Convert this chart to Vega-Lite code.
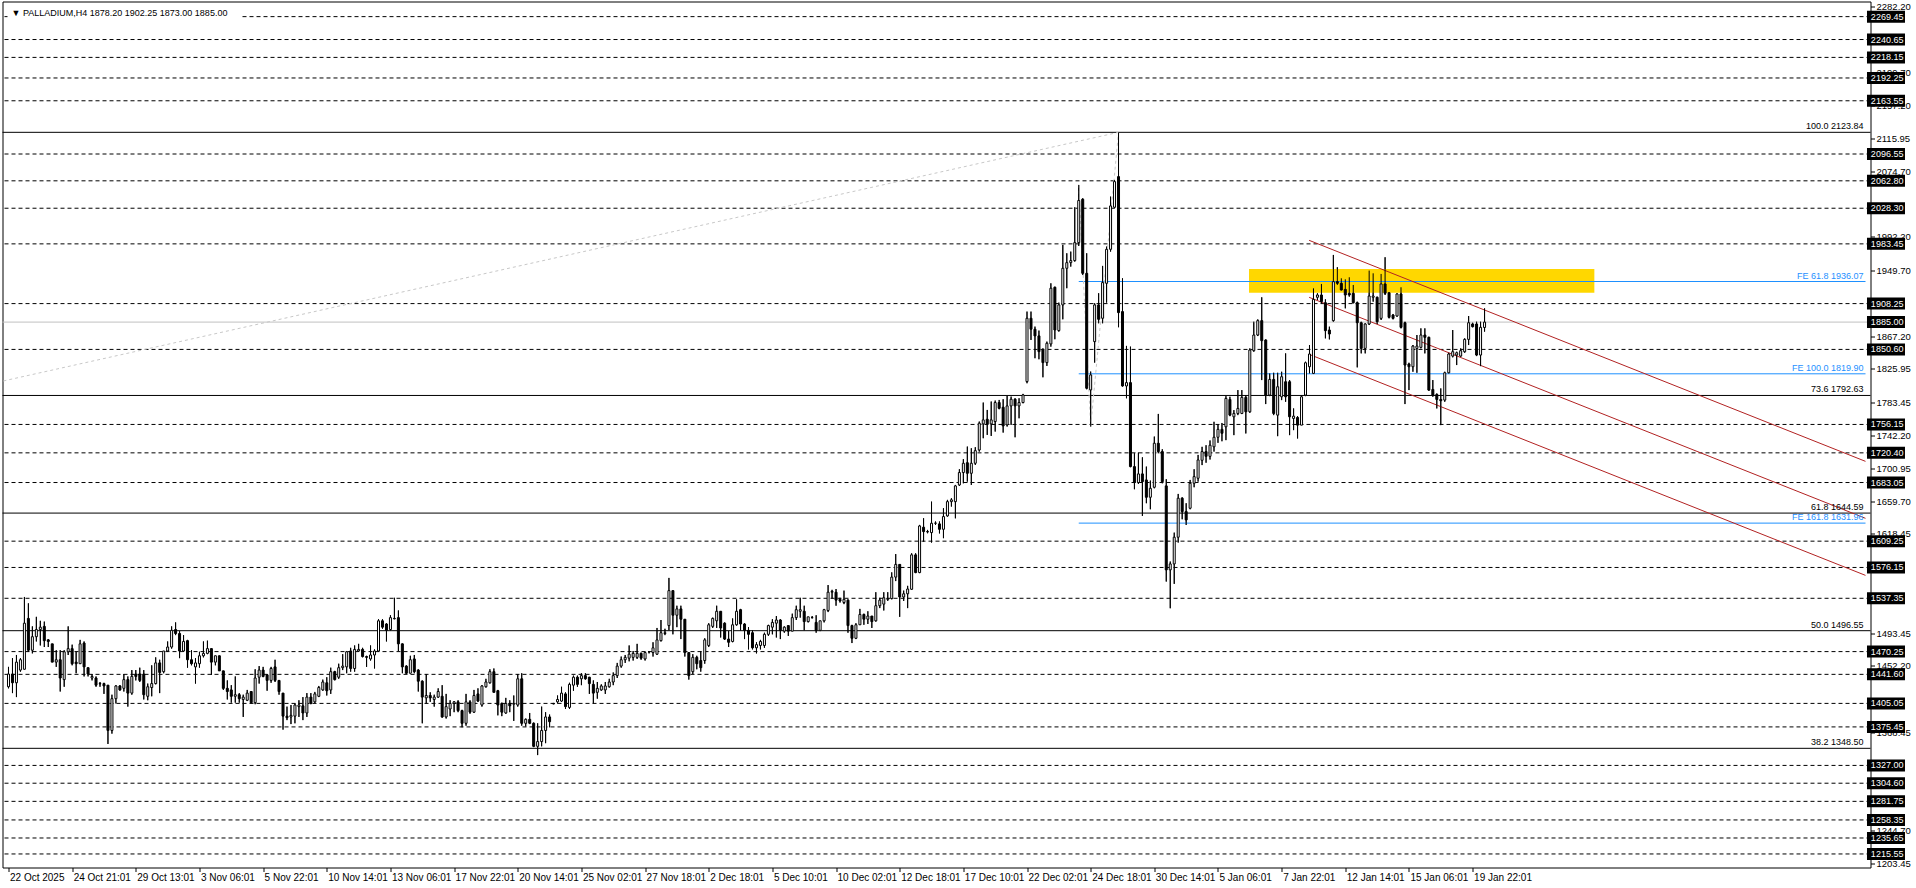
{
"$schema": "https://vega.github.io/schema/vega-lite/v6.json",
"width": 1868, "height": 866,
"autosize": {"type": "none"},
"padding": {"left": 2.5, "top": 1.5, "right": 45.5, "bottom": 20.5},
"background": "white",
"config": {
  "font": "Liberation Sans",
  "view": {"stroke": "black", "strokeWidth": 1},
  "axis": {"labelFont": "Liberation Sans", "labelFontSize": 9.5, "labelColor": "black", "tickColor": "black", "tickWidth": 1, "domain": false, "grid": false, "zindex": 0}
},
"datasets": {
"candles": [
{"i":0,"o":1426,"h":1451,"l":1424,"c":1442},{"i":1,"o":1442,"h":1462,"l":1418,"c":1431},{"i":2,"o":1431,"h":1466,"l":1413,"c":1457},{"i":3,"o":1447,"h":1462,"l":1445,"c":1460},{"i":4,"o":1448,"h":1539,"l":1448,"c":1506},{"i":5,"o":1512,"h":1531,"l":1470,"c":1472},{"i":6,"o":1472,"h":1502,"l":1468,"c":1489},{"i":7,"o":1489,"h":1514,"l":1483,"c":1498},{"i":8,"o":1498,"h":1509,"l":1478,"c":1501},{"i":9,"o":1502,"h":1508,"l":1476,"c":1484},
{"i":10,"o":1485,"h":1486,"l":1476,"c":1483},{"i":11,"o":1480,"h":1480,"l":1457,"c":1457},{"i":12,"o":1457,"h":1472,"l":1451,"c":1460},{"i":13,"o":1460,"h":1472,"l":1420,"c":1437},{"i":14,"o":1435,"h":1472,"l":1426,"c":1470},{"i":15,"o":1470,"h":1502,"l":1466,"c":1474},{"i":16,"o":1474,"h":1479,"l":1453,"c":1455},{"i":17,"o":1457,"h":1470,"l":1443,"c":1455},{"i":18,"o":1455,"h":1485,"l":1455,"c":1480},{"i":19,"o":1481,"h":1483,"l":1439,"c":1451},
{"i":20,"o":1450,"h":1450,"l":1439,"c":1442},{"i":21,"o":1437,"h":1442,"l":1434,"c":1439},{"i":22,"o":1437,"h":1439,"l":1426,"c":1428},{"i":23,"o":1430,"h":1432,"l":1426,"c":1429.6},{"i":24,"o":1430,"h":1431,"l":1417,"c":1427},{"i":25,"o":1428,"h":1428,"l":1354,"c":1371},{"i":26,"o":1371,"h":1416,"l":1367,"c":1411},{"i":27,"o":1411,"h":1428,"l":1405,"c":1427},{"i":28,"o":1427,"h":1428,"l":1421,"c":1422},{"i":29,"o":1424,"h":1442,"l":1420,"c":1435},
{"i":30,"o":1435,"h":1439,"l":1401,"c":1418},{"i":31,"o":1418,"h":1447,"l":1416,"c":1439},{"i":32,"o":1442,"h":1447,"l":1434,"c":1439},{"i":33,"o":1442,"h":1450,"l":1432,"c":1434},{"i":34,"o":1442,"h":1447,"l":1410,"c":1416},{"i":35,"o":1414,"h":1430,"l":1409,"c":1426},{"i":36,"o":1425,"h":1453,"l":1414,"c":1430},{"i":37,"o":1430,"h":1463,"l":1429,"c":1456},{"i":38,"o":1456,"h":1460,"l":1418,"c":1444},{"i":39,"o":1445,"h":1471,"l":1443,"c":1471},
{"i":40,"o":1471,"h":1483,"l":1470,"c":1476},{"i":41,"o":1476,"h":1502,"l":1474,"c":1497},{"i":42,"o":1498,"h":1507,"l":1491,"c":1493},{"i":43,"o":1493,"h":1496,"l":1462,"c":1471},{"i":44,"o":1471,"h":1491,"l":1470,"c":1483},{"i":45,"o":1484,"h":1485,"l":1450,"c":1460},{"i":46,"o":1460,"h":1472,"l":1453,"c":1455},{"i":47,"o":1451,"h":1462,"l":1430,"c":1456},{"i":48,"o":1455,"h":1470,"l":1450,"c":1465},{"i":49,"o":1465,"h":1483,"l":1463,"c":1468},
{"i":50,"o":1468,"h":1484,"l":1467,"c":1474},{"i":51,"o":1474,"h":1474,"l":1441,"c":1457},{"i":52,"o":1457,"h":1465,"l":1453,"c":1465},{"i":53,"o":1465,"h":1465,"l":1446,"c":1446},{"i":54,"o":1446,"h":1446,"l":1422,"c":1424},{"i":55,"o":1424,"h":1434,"l":1410,"c":1420},{"i":56,"o":1422,"h":1428,"l":1406,"c":1414},{"i":57,"o":1414,"h":1439,"l":1406,"c":1416},{"i":58,"o":1416,"h":1418,"l":1406,"c":1411},{"i":59,"o":1410,"h":1416,"l":1388,"c":1413},
{"i":60,"o":1409,"h":1422,"l":1408,"c":1418},{"i":61,"o":1420,"h":1420,"l":1405,"c":1406},{"i":62,"o":1406,"h":1448,"l":1404,"c":1437},{"i":63,"o":1438,"h":1452,"l":1430,"c":1447},{"i":64,"o":1447,"h":1451,"l":1438,"c":1439},{"i":65,"o":1441,"h":1442,"l":1421,"c":1434},{"i":66,"o":1434,"h":1451,"l":1431,"c":1449},{"i":67,"o":1451,"h":1460,"l":1432,"c":1434},{"i":68,"o":1434,"h":1434,"l":1416,"c":1420},{"i":69,"o":1418,"h":1418,"l":1372,"c":1389},
{"i":70,"o":1389,"h":1401,"l":1384,"c":1387},{"i":71,"o":1388,"h":1403,"l":1379,"c":1390},{"i":72,"o":1389,"h":1405,"l":1380,"c":1403},{"i":73,"o":1401,"h":1409,"l":1388,"c":1403},{"i":74,"o":1402,"h":1413,"l":1384,"c":1393},{"i":75,"o":1393,"h":1418,"l":1388,"c":1413},{"i":76,"o":1413,"h":1418,"l":1404,"c":1405},{"i":77,"o":1407,"h":1419.5,"l":1405.6,"c":1417},{"i":78,"o":1414,"h":1427,"l":1413,"c":1425},{"i":79,"o":1422,"h":1435,"l":1421,"c":1432},
{"i":80,"o":1431,"h":1438,"l":1415,"c":1421},{"i":81,"o":1422,"h":1450,"l":1417,"c":1445},{"i":82,"o":1445,"h":1446,"l":1434,"c":1435},{"i":83,"o":1438,"h":1455,"l":1436,"c":1450},{"i":84,"o":1450,"h":1467,"l":1447,"c":1452},{"i":85,"o":1451,"h":1471,"l":1443,"c":1470},{"i":86,"o":1471,"h":1475,"l":1445,"c":1449},{"i":87,"o":1449,"h":1478,"l":1445,"c":1473},{"i":88,"o":1471,"h":1480,"l":1470,"c":1473},{"i":89,"o":1473,"h":1475,"l":1463,"c":1464},
{"i":90,"o":1464,"h":1465,"l":1451,"c":1463},{"i":91,"o":1461,"h":1478,"l":1459,"c":1466},{"i":92,"o":1466,"h":1473,"l":1449,"c":1471},{"i":93,"o":1471,"h":1511,"l":1470,"c":1509},{"i":94,"o":1509,"h":1511,"l":1499,"c":1501},{"i":95,"o":1505,"h":1506,"l":1483,"c":1497},{"i":96,"o":1498,"h":1516,"l":1497,"c":1513},{"i":97,"o":1512,"h":1538,"l":1511,"c":1511.5},{"i":98,"o":1513,"h":1522,"l":1471,"c":1480},{"i":99,"o":1480,"h":1480.4,"l":1443,"c":1451},
{"i":100,"o":1452,"h":1453,"l":1442,"c":1443},{"i":101,"o":1443,"h":1465,"l":1443,"c":1460},{"i":102,"o":1461,"h":1466,"l":1443,"c":1445},{"i":103,"o":1447,"h":1448,"l":1420,"c":1433},{"i":104,"o":1433,"h":1434,"l":1380,"c":1413},{"i":105,"o":1412,"h":1442,"l":1405,"c":1415},{"i":106,"o":1415,"h":1419,"l":1407,"c":1412},{"i":107,"o":1410,"h":1416,"l":1401,"c":1413},{"i":108,"o":1413,"h":1424,"l":1412,"c":1420},{"i":109,"o":1414,"h":1428,"l":1387,"c":1388},
{"i":110,"o":1388,"h":1417,"l":1386,"c":1401},{"i":111,"o":1398,"h":1409,"l":1389,"c":1405},{"i":112,"o":1405,"h":1408,"l":1394,"c":1407},{"i":113,"o":1407,"h":1409,"l":1394,"c":1396},{"i":114,"o":1396,"h":1397,"l":1375,"c":1380},{"i":115,"o":1380,"h":1417,"l":1377,"c":1407},{"i":116,"o":1407,"h":1409,"l":1392,"c":1394},{"i":117,"o":1394,"h":1422,"l":1393,"c":1415},{"i":118,"o":1417,"h":1424,"l":1407,"c":1408},{"i":119,"o":1403,"h":1428,"l":1401,"c":1427},
{"i":120,"o":1426,"h":1436,"l":1425,"c":1432},{"i":121,"o":1431,"h":1448,"l":1430,"c":1445},{"i":122,"o":1445,"h":1449,"l":1419,"c":1419},{"i":123,"o":1421,"h":1422,"l":1390,"c":1403},{"i":124,"o":1405,"h":1406,"l":1389,"c":1394},{"i":125,"o":1393,"h":1412,"l":1392,"c":1405},{"i":126,"o":1405,"h":1409,"l":1394,"c":1402},{"i":127,"o":1404,"h":1415,"l":1383,"c":1405},{"i":128,"o":1403,"h":1442,"l":1401,"c":1436},{"i":129,"o":1436,"h":1443,"l":1377,"c":1380},
{"i":130,"o":1380,"h":1386,"l":1376,"c":1385},{"i":131,"o":1385,"h":1393,"l":1379,"c":1380},{"i":132,"o":1380,"h":1381,"l":1350,"c":1351},{"i":133,"o":1351,"h":1380,"l":1340,"c":1357},{"i":134,"o":1357,"h":1401,"l":1351,"c":1371},{"i":135,"o":1371,"h":1394,"l":1355,"c":1388},{"i":136,"o":1388,"h":1391,"l":1375,"c":1382},{"i":137,"o":1405,"h":1405.6,"l":1404,"c":1404.4},{"i":138,"o":1407,"h":1415,"l":1405,"c":1410},{"i":139,"o":1408,"h":1426,"l":1407,"c":1418},
{"i":140,"o":1417,"h":1419,"l":1398,"c":1401},{"i":141,"o":1400,"h":1431,"l":1398,"c":1429},{"i":142,"o":1428,"h":1440,"l":1421,"c":1438},{"i":143,"o":1438,"h":1440,"l":1426,"c":1429},{"i":144,"o":1436,"h":1443,"l":1428,"c":1440},{"i":145,"o":1440,"h":1443,"l":1435,"c":1436},{"i":146,"o":1438,"h":1438.4,"l":1417,"c":1430},{"i":147,"o":1429,"h":1434,"l":1405,"c":1418},{"i":148,"o":1419,"h":1432,"l":1411,"c":1424},{"i":149,"o":1422,"h":1429,"l":1421,"c":1427},
{"i":150,"o":1422,"h":1432,"l":1417,"c":1427},{"i":151,"o":1426,"h":1436,"l":1425,"c":1432},{"i":152,"o":1432,"h":1444,"l":1428,"c":1440},{"i":153,"o":1440,"h":1456,"l":1437,"c":1452},{"i":154,"o":1452,"h":1464,"l":1450,"c":1460},{"i":155,"o":1460,"h":1466,"l":1456,"c":1463},{"i":156,"o":1462,"h":1478,"l":1458,"c":1467},{"i":157,"o":1463,"h":1471,"l":1459,"c":1468},{"i":158,"o":1463,"h":1480,"l":1461,"c":1468},{"i":159,"o":1468,"h":1469,"l":1460,"c":1462},
{"i":160,"o":1461,"h":1470,"l":1459,"c":1469},{"i":161,"o":1470,"h":1471,"l":1468,"c":1470},{"i":162,"o":1469,"h":1482,"l":1464,"c":1475},{"i":163,"o":1467,"h":1500,"l":1466,"c":1485},{"i":164,"o":1484,"h":1510,"l":1483,"c":1494},{"i":165,"o":1493,"h":1499,"l":1491,"c":1494},{"i":166,"o":1503,"h":1563,"l":1497,"c":1547},{"i":167,"o":1547,"h":1547,"l":1492,"c":1516},{"i":168,"o":1516,"h":1528,"l":1501,"c":1524},{"i":169,"o":1524,"h":1528,"l":1486,"c":1511},
{"i":170,"o":1511,"h":1511,"l":1464,"c":1469},{"i":171,"o":1469,"h":1469,"l":1435,"c":1440},{"i":172,"o":1445,"h":1467,"l":1442,"c":1463},{"i":173,"o":1463,"h":1465,"l":1448,"c":1455},{"i":174,"o":1459,"h":1471,"l":1445,"c":1450},{"i":175,"o":1459,"h":1487,"l":1455,"c":1485},{"i":176,"o":1478,"h":1506,"l":1476,"c":1504},{"i":177,"o":1502,"h":1513,"l":1500,"c":1512},{"i":178,"o":1509,"h":1528,"l":1500,"c":1521},{"i":179,"o":1521,"h":1521,"l":1488,"c":1500},
{"i":180,"o":1506,"h":1507,"l":1485,"c":1486},{"i":181,"o":1486,"h":1496,"l":1476,"c":1482},{"i":182,"o":1483,"h":1512,"l":1482,"c":1504},{"i":183,"o":1504,"h":1536,"l":1503,"c":1521},{"i":184,"o":1523,"h":1524,"l":1497,"c":1505},{"i":185,"o":1505,"h":1506,"l":1486,"c":1497},{"i":186,"o":1497,"h":1501,"l":1473,"c":1492},{"i":187,"o":1494,"h":1497,"l":1473,"c":1475},{"i":188,"o":1475,"h":1482,"l":1468,"c":1479},{"i":189,"o":1478,"h":1485,"l":1473,"c":1483},
{"i":190,"o":1478,"h":1494,"l":1475,"c":1492},{"i":191,"o":1492,"h":1504,"l":1490,"c":1503},{"i":192,"o":1501,"h":1511,"l":1492,"c":1507},{"i":193,"o":1506,"h":1515,"l":1488,"c":1510},{"i":194,"o":1510,"h":1511,"l":1486,"c":1497},{"i":195,"o":1496,"h":1502,"l":1494,"c":1501},{"i":196,"o":1503,"h":1503,"l":1490,"c":1496},{"i":197,"o":1496,"h":1518,"l":1496,"c":1513},{"i":198,"o":1513,"h":1528,"l":1510,"c":1523},{"i":199,"o":1521,"h":1538,"l":1513,"c":1523},
{"i":200,"o":1521,"h":1528,"l":1497,"c":1508},{"i":201,"o":1508,"h":1514,"l":1507,"c":1514},{"i":202,"o":1513,"h":1515,"l":1512,"c":1513},{"i":203,"o":1507,"h":1516,"l":1494,"c":1497},{"i":204,"o":1497,"h":1509,"l":1496,"c":1509},{"i":205,"o":1509,"h":1524,"l":1507,"c":1523},{"i":206,"o":1522,"h":1554,"l":1520,"c":1545},{"i":207,"o":1545,"h":1548,"l":1537,"c":1546},{"i":208,"o":1545,"h":1549,"l":1528,"c":1535},{"i":209,"o":1536,"h":1538,"l":1532,"c":1534},
{"i":210,"o":1532,"h":1547,"l":1530,"c":1536},{"i":211,"o":1535,"h":1536,"l":1494,"c":1503},{"i":212,"o":1503,"h":1504,"l":1481,"c":1487},{"i":213,"o":1487,"h":1506,"l":1486,"c":1504},{"i":214,"o":1504,"h":1524,"l":1504,"c":1517},{"i":215,"o":1517,"h":1518,"l":1504,"c":1511},{"i":216,"o":1511,"h":1521,"l":1505,"c":1515},{"i":217,"o":1515,"h":1515,"l":1500,"c":1508},{"i":218,"o":1509,"h":1545,"l":1508,"c":1528},{"i":219,"o":1528,"h":1538,"l":1525,"c":1535},
{"i":220,"o":1530,"h":1545,"l":1522,"c":1538},{"i":221,"o":1536,"h":1545,"l":1534,"c":1537},{"i":222,"o":1537,"h":1570,"l":1536,"c":1564},{"i":223,"o":1564,"h":1593,"l":1559,"c":1580},{"i":224,"o":1580,"h":1580,"l":1514,"c":1539},{"i":225,"o":1539,"h":1547,"l":1534,"c":1543},{"i":226,"o":1543,"h":1553,"l":1525,"c":1549},{"i":227,"o":1548.7,"h":1594,"l":1547.9,"c":1592},{"i":228,"o":1592,"h":1594,"l":1569,"c":1569.7},{"i":229,"o":1569.7,"h":1629.7,"l":1569,"c":1628.4},
{"i":230,"o":1626.8,"h":1638.1,"l":1608.7,"c":1621.3},{"i":231,"o":1621.3,"h":1623.4,"l":1619.2,"c":1620.9},{"i":232,"o":1620,"h":1659,"l":1607.5,"c":1631.8},{"i":233,"o":1631.8,"h":1634,"l":1629.7,"c":1632},{"i":234,"o":1631,"h":1634,"l":1619,"c":1624.2},{"i":235,"o":1624.2,"h":1650.7,"l":1613,"c":1640.2},{"i":236,"o":1641,"h":1661.2,"l":1640.2,"c":1659},{"i":237,"o":1659,"h":1663.3,"l":1652.8,"c":1661.2},{"i":238,"o":1659,"h":1680,"l":1638,"c":1678.8},{"i":239,"o":1680,"h":1699.8,"l":1678.8,"c":1695.6},
{"i":240,"o":1695.6,"h":1712.4,"l":1682.1,"c":1707.3},{"i":241,"o":1708,"h":1728.3,"l":1684.2,"c":1694.7},{"i":242,"o":1694.7,"h":1726.2,"l":1680,"c":1707.3},{"i":243,"o":1707.3,"h":1727.5,"l":1705.2,"c":1723.2},{"i":244,"o":1724,"h":1759.8,"l":1722,"c":1757.7},{"i":245,"o":1756.8,"h":1783.7,"l":1738.8,"c":1761.9},{"i":246,"o":1762.7,"h":1774.4,"l":1743,"c":1756.8},{"i":247,"o":1756.8,"h":1785,"l":1741.7,"c":1761.9},{"i":248,"o":1759.8,"h":1786.2,"l":1747.2,"c":1783.7},{"i":249,"o":1783.7,"h":1787,"l":1775.3,"c":1776.5},
{"i":250,"o":1777.8,"h":1787.9,"l":1745.9,"c":1754.3},{"i":251,"o":1755.6,"h":1792,"l":1753.5,"c":1779.5},{"i":252,"o":1779.5,"h":1791.2,"l":1755.6,"c":1787.9},{"i":253,"o":1787.9,"h":1789.1,"l":1740,"c":1779.5},{"i":254,"o":1779.5,"h":1789.1,"l":1763.9,"c":1783.7},{"i":255,"o":1783.7,"h":1794.6,"l":1782.8,"c":1793.3},{"i":256,"o":1810.1,"h":1898.2,"l":1808,"c":1889.8},{"i":257,"o":1889.8,"h":1898.2,"l":1862.5,"c":1876},{"i":258,"o":1876,"h":1879.3,"l":1839.5,"c":1867.6},{"i":259,"o":1867.6,"h":1874.3,"l":1838.2,"c":1847.8},
{"i":260,"o":1849.9,"h":1852,"l":1815.5,"c":1834},{"i":261,"o":1834,"h":1860.4,"l":1829.8,"c":1858.3},{"i":262,"o":1857.5,"h":1933.8,"l":1854.1,"c":1927.6},{"i":263,"o":1928.8,"h":1929.6,"l":1863.4,"c":1875.1},{"i":264,"o":1874.3,"h":1909.5,"l":1873,"c":1906.6},{"i":265,"o":1906.6,"h":1982.1,"l":1888.5,"c":1952.7},{"i":266,"o":1952.7,"h":1971.6,"l":1927.6,"c":1959.8},{"i":267,"o":1959.8,"h":1973.7,"l":1954.8,"c":1962.4},{"i":268,"o":1962.4,"h":2029.5,"l":1961.1,"c":1985},{"i":269,"o":1985,"h":2057.6,"l":1980.8,"c":2038},
{"i":270,"o":2039.6,"h":2040.8,"l":1944.3,"c":1946.4},{"i":271,"o":1946.4,"h":1971.6,"l":1800.4,"c":1801.7},{"i":272,"o":1799.6,"h":1822.7,"l":1753.5,"c":1818.5},{"i":273,"o":1860.4,"h":1908.7,"l":1834,"c":1906.6},{"i":274,"o":1906.6,"h":1921.3,"l":1883.5,"c":1888.5},{"i":275,"o":1889.8,"h":1955.7,"l":1883.5,"c":1934.7},{"i":276,"o":1933.8,"h":1980,"l":1909.5,"c":1976.6},{"i":277,"o":1976.6,"h":2042.9,"l":1973.7,"c":2031.2},{"i":278,"o":2029.5,"h":2063.9,"l":2028.2,"c":2061.8},{"i":279,"o":2068.1,"h":2123.8,"l":1878.5,"c":1896.9},
{"i":280,"o":1898.2,"h":1940.1,"l":1803.8,"c":1804.6},{"i":281,"o":1804.6,"h":1855,"l":1789.1,"c":1808.8},{"i":282,"o":1808.8,"h":1854.1,"l":1702.3,"c":1703.1},{"i":283,"o":1703.1,"h":1719.9,"l":1674.6,"c":1683},{"i":284,"o":1683,"h":1720.7,"l":1681.3,"c":1693.9},{"i":285,"o":1693.9,"h":1714.8,"l":1641,"c":1684.2},{"i":286,"o":1686.3,"h":1703.1,"l":1657,"c":1664.5},{"i":287,"o":1664.5,"h":1685.5,"l":1649.4,"c":1675.8},{"i":288,"o":1677.1,"h":1740.9,"l":1675.8,"c":1732.5},{"i":289,"o":1732.5,"h":1769.4,"l":1719.9,"c":1722},
{"i":290,"o":1722,"h":1724.9,"l":1682.1,"c":1684.2},{"i":291,"o":1678.8,"h":1687.2,"l":1558.4,"c":1573.1},{"i":292,"o":1573.1,"h":1583.6,"l":1524.8,"c":1580.6},{"i":293,"o":1580.6,"h":1620,"l":1555.5,"c":1614.2},{"i":294,"o":1614.2,"h":1668.7,"l":1607.5,"c":1663.3},{"i":295,"o":1663.3,"h":1664.5,"l":1636.8,"c":1646.5},{"i":296,"o":1646.5,"h":1657,"l":1629.7,"c":1636},{"i":297,"o":1650.7,"h":1686.3,"l":1649.4,"c":1682.1},{"i":298,"o":1682.1,"h":1699.8,"l":1677.1,"c":1690.5},{"i":299,"o":1688.4,"h":1717.8,"l":1684.2,"c":1711.5},
{"i":300,"o":1711,"h":1728,"l":1705,"c":1722},{"i":301,"o":1722,"h":1730,"l":1708,"c":1716},{"i":302,"o":1716,"h":1736,"l":1712,"c":1730},{"i":303,"o":1728,"h":1759.5,"l":1722,"c":1740},{"i":304,"o":1740,"h":1756,"l":1733,"c":1750},{"i":305,"o":1750,"h":1758,"l":1735,"c":1745},{"i":306,"o":1753.2,"h":1791.8,"l":1736.4,"c":1788.9},{"i":307,"o":1787.6,"h":1791,"l":1766.6,"c":1767.9},{"i":308,"o":1765.8,"h":1774.2,"l":1742.7,"c":1770},{"i":309,"o":1770,"h":1799.4,"l":1767.9,"c":1776.3},
{"i":310,"o":1770,"h":1799.4,"l":1769.2,"c":1790.2},{"i":311,"o":1790.2,"h":1793.1,"l":1744.8,"c":1772.1},{"i":312,"o":1772.1,"h":1851.9,"l":1770.8,"c":1849.8},{"i":313,"o":1849,"h":1885.5,"l":1847.7,"c":1868.7},{"i":314,"o":1868.7,"h":1888.4,"l":1867.4,"c":1886.8},{"i":315,"o":1886.8,"h":1916.2,"l":1812,"c":1861.6},{"i":316,"o":1862.4,"h":1863.2,"l":1781.8,"c":1793.1},{"i":317,"o":1793.1,"h":1820.4,"l":1791.8,"c":1812.8},{"i":318,"o":1812.8,"h":1821.2,"l":1767.9,"c":1770},{"i":319,"o":1767.9,"h":1821.2,"l":1741.4,"c":1803.6},
{"i":320,"o":1791,"h":1822.5,"l":1786.8,"c":1816.2},{"i":321,"o":1809.9,"h":1845.6,"l":1784.7,"c":1791},{"i":322,"o":1809.9,"h":1812,"l":1742.7,"c":1765.8},{"i":323,"o":1763.7,"h":1776.3,"l":1749,"c":1766.6},{"i":324,"o":1764.9,"h":1766.6,"l":1738.5,"c":1755.3},{"i":325,"o":1755.3,"h":1793.1,"l":1755.3,"c":1791},{"i":326,"o":1793.1,"h":1835.1,"l":1791.8,"c":1833.8},{"i":327,"o":1828.8,"h":1856.1,"l":1820.4,"c":1844.8},{"i":328,"o":1820.4,"h":1927.5,"l":1819.6,"c":1913.6},{"i":329,"o":1916.2,"h":1921.2,"l":1912.8,"c":1919.1},
{"i":330,"o":1919.1,"h":1933,"l":1908.6,"c":1910.7},{"i":331,"o":1909.4,"h":1913.6,"l":1864.5,"c":1874.2},{"i":332,"o":1875,"h":1879.2,"l":1863.2,"c":1870},{"i":333,"o":1886.8,"h":1969.5,"l":1885.5,"c":1935.9},{"i":334,"o":1935.9,"h":1954,"l":1931.7,"c":1933.8},{"i":335,"o":1933.8,"h":1940.1,"l":1924.6,"c":1925.4},{"i":336,"o":1926.2,"h":1938.8,"l":1902.3,"c":1919.1},{"i":337,"o":1921.2,"h":1941.4,"l":1917,"c":1919.1},{"i":338,"o":1921.2,"h":1931.7,"l":1908.6,"c":1909.4},{"i":339,"o":1909.4,"h":1910.7,"l":1828,"c":1884.2},
{"i":340,"o":1884.2,"h":1885.5,"l":1845.6,"c":1851.9},{"i":341,"o":1851.9,"h":1883.4,"l":1845.6,"c":1882.6},{"i":342,"o":1882.6,"h":1949.8,"l":1881.3,"c":1917.8},{"i":343,"o":1916.2,"h":1946.4,"l":1910.7,"c":1917.8},{"i":344,"o":1916.2,"h":1917,"l":1882.6,"c":1885.5},{"i":345,"o":1889.7,"h":1945.6,"l":1887.6,"c":1933},{"i":346,"o":1933,"h":1966.6,"l":1919.1,"c":1921.2},{"i":347,"o":1922,"h":1922,"l":1889.7,"c":1891},{"i":348,"o":1893.9,"h":1895.2,"l":1888.4,"c":1889.7},{"i":349,"o":1892.6,"h":1921.2,"l":1891.8,"c":1920.4},
{"i":350,"o":1920.4,"h":1928.8,"l":1877.1,"c":1878.4},{"i":351,"o":1884.2,"h":1885.5,"l":1781.8,"c":1830.9},{"i":352,"o":1832.2,"h":1833.8,"l":1799.4,"c":1828.8},{"i":353,"o":1828.8,"h":1856.1,"l":1822.5,"c":1854.8},{"i":354,"o":1851.9,"h":1868.7,"l":1821.2,"c":1854.8},{"i":355,"o":1853.2,"h":1877.1,"l":1851.9,"c":1868.7},{"i":356,"o":1868.7,"h":1877.1,"l":1845.6,"c":1865.8},{"i":357,"o":1865.8,"h":1866.6,"l":1798.6,"c":1799.4},{"i":358,"o":1800.2,"h":1812,"l":1791,"c":1793.1},{"i":359,"o":1793.9,"h":1795.2,"l":1776.3,"c":1787.6},
{"i":360,"o":1787.6,"h":1801.5,"l":1755.3,"c":1786},{"i":361,"o":1786.8,"h":1822.5,"l":1784.7,"c":1821.2},{"i":362,"o":1821.2,"h":1846.4,"l":1820.4,"c":1844.8},{"i":363,"o":1842.2,"h":1875,"l":1840.6,"c":1847.7},{"i":364,"o":1843.5,"h":1847.7,"l":1830.9,"c":1846.4},{"i":365,"o":1842.2,"h":1851.9,"l":1841.4,"c":1849},{"i":366,"o":1847.7,"h":1864.5,"l":1846.4,"c":1863.2},{"i":367,"o":1863.2,"h":1892.6,"l":1856.1,"c":1884.2},{"i":368,"o":1882.6,"h":1884.2,"l":1878.4,"c":1879.2},{"i":369,"o":1882.6,"h":1885.5,"l":1842.2,"c":1843.5},
{"i":370,"o":1843.5,"h":1885.5,"l":1829.6,"c":1878.4},{"i":371,"o":1878.2,"h":1902.25,"l":1873.0,"c":1885.0}
],
"levels": [
{"p":2269.45},{"p":2240.65},{"p":2218.15},{"p":2192.25},{"p":2163.55},{"p":2096.55},{"p":2062.80},{"p":2028.30},{"p":1983.45},{"p":1908.25},{"p":1850.60},{"p":1756.15},{"p":1720.40},{"p":1683.05},{"p":1609.25},{"p":1576.15},{"p":1537.35},{"p":1470.25},{"p":1441.60},{"p":1405.05},{"p":1375.45},{"p":1327.00},{"p":1304.60},{"p":1281.75},{"p":1258.35},{"p":1235.65},{"p":1215.55}
],
"boxes": [
{"p":2269.45},{"p":2240.65},{"p":2218.15},{"p":2192.25},{"p":2163.55},{"p":2096.55},{"p":2062.80},{"p":2028.30},{"p":1983.45},{"p":1908.25},{"p":1885.00},{"p":1850.60},{"p":1756.15},{"p":1720.40},{"p":1683.05},{"p":1609.25},{"p":1576.15},{"p":1537.35},{"p":1470.25},{"p":1441.60},{"p":1405.05},{"p":1375.45},{"p":1327.00},{"p":1304.60},{"p":1281.75},{"p":1258.35},{"p":1235.65},{"p":1215.55}
],
"fib": [
{"p":2123.84,"t":"100.0 2123.84"},{"p":1792.63,"t":"73.6 1792.63"},{"p":1644.59,"t":"61.8 1644.59"},{"p":1496.55,"t":"50.0 1496.55"},{"p":1348.50,"t":"38.2 1348.50"}
],
"fe": [
{"p":1936.07,"t":"FE 61.8 1936.07"},{"p":1819.90,"t":"FE 100.0 1819.90"},{"p":1631.96,"t":"FE 161.8 1631.96"}
],
"channel": [
{"x1":326.9,"y1":1987.9,"x2":466.75,"y2":1709.7},{"x1":326.9,"y1":1916.2,"x2":466.75,"y2":1638.0},{"x1":326.9,"y1":1844.4,"x2":466.75,"y2":1566.2}
],
"gray": [
{"x1":-844.7,"y1":869.2,"x2":279,"y2":2123.84},{"x1":269,"y1":2057.6,"x2":272,"y2":1753.5},{"x1":272,"y1":1753.5,"x2":279,"y2":2123.84}
],
"zone": [{"x1":311.8,"x2":398.6,"y1":1921.9,"y2":1951.8}]
},
"layer": [
{"data":{"name":"candles"},"mark":{"type":"rule","color":"black","strokeWidth":1},
 "encoding":{
  "x":{"field":"i","type":"quantitative","scale":{"domain":[-0.25,466.75],"nice":false,"zero":false},
   "axis":{"orient":"bottom","title":null,"values":[0,16,32,48,64,80,96,112,128,144,160,176,192,208,224,240,256,272,288,304,320,336,352,368],
    "labelExpr":"['22 Oct 2025','24 Oct 21:01','29 Oct 13:01','3 Nov 06:01','5 Nov 22:01','10 Nov 14:01','13 Nov 06:01','17 Nov 22:01','20 Nov 14:01','25 Nov 02:01','27 Nov 18:01','2 Dec 18:01','5 Dec 10:01','10 Dec 02:01','12 Dec 18:01','17 Dec 10:01','22 Dec 02:01','24 Dec 18:01','30 Dec 14:01','5 Jan 06:01','7 Jan 22:01','12 Jan 14:01','15 Jan 06:01','19 Jan 22:01'][round(datum.value/16)]",
    "labelAlign":"left","labelOffset":1,"labelPadding":1,"labelFontSize":10,"tickSize":4,"labelFlush":false,"labelOverlap":false,"labelBound":false,"zindex":0}},
  "y":{"field":"l","type":"quantitative","scale":{"domain":[1198.5,2288.5],"nice":false,"zero":false},
   "axis":{"orient":"right","title":null,"values":[2282.20,2199.70,2157.20,2115.95,2074.70,1992.20,1949.70,1867.20,1825.95,1783.45,1742.20,1700.95,1659.70,1618.45,1493.45,1452.20,1368.45,1244.70,1203.45],
    "format":".2f","tickSize":4,"labelPadding":1.5,"labelFlush":false,"labelOverlap":false,"labelBound":false,"zindex":0}},
  "y2":{"field":"h"}}},
{"data":{"name":"zone"},"mark":{"type":"rect","color":"#FFD700"},
 "encoding":{"x":{"field":"x1","type":"quantitative"},"x2":{"field":"x2"},
 "y":{"field":"y1","type":"quantitative"},"y2":{"field":"y2"}}},
{"data":{"name":"levels"},"mark":{"type":"rule","color":"black","strokeWidth":1,"strokeDash":[4,3]},
 "encoding":{"y":{"field":"p","type":"quantitative"}}},
{"data":{"name":"fib"},"mark":{"type":"rule","color":"black","strokeWidth":1},
 "encoding":{"y":{"field":"p","type":"quantitative"}}},
{"data":{"values":[{"p":1885.0}]},"mark":{"type":"rule","color":"#C0C0C0","strokeWidth":1},
 "encoding":{"y":{"field":"p","type":"quantitative"}}},
{"data":{"name":"fe"},"mark":{"type":"rule","color":"#1E90FF","strokeWidth":1,"clip":true},
 "encoding":{"x":{"datum":269,"type":"quantitative"},"x2":{"datum":466.75},
 "y":{"field":"p","type":"quantitative"}}},
{"data":{"name":"gray"},"mark":{"type":"rule","color":"#C8C8C8","strokeWidth":1,"strokeDash":[3,3],"clip":true},
 "encoding":{"x":{"field":"x1","type":"quantitative"},"x2":{"field":"x2"},
 "y":{"field":"y1","type":"quantitative"},"y2":{"field":"y2"}}},
{"data":{"name":"channel"},"mark":{"type":"rule","color":"#B22222","strokeWidth":1,"clip":true},
 "encoding":{"x":{"field":"x1","type":"quantitative"},"x2":{"field":"x2"},
 "y":{"field":"y1","type":"quantitative"},"y2":{"field":"y2"}}},
{"data":{"name":"candles"},"mark":{"type":"rule","color":"black","strokeWidth":1},
 "encoding":{"x":{"field":"i","type":"quantitative"},"y":{"field":"l","type":"quantitative"},"y2":{"field":"h"}}},
{"data":{"name":"candles"},"mark":{"type":"bar","width":2,"stroke":"black","strokeWidth":1},
 "encoding":{
  "x":{"field":"i","type":"quantitative"},
  "y":{"field":"o","type":"quantitative"},
  "y2":{"field":"c"},
  "fill":{"condition":{"test":"datum.c >= datum.o","value":"white"},"value":"black"}}},
{"data":{"name":"fib"},"mark":{"type":"text","align":"right","baseline":"bottom","dx":-2,"dy":-1,"fontSize":9,"color":"black"},
 "encoding":{"x":{"datum":466.75,"type":"quantitative"},
  "y":{"field":"p","type":"quantitative"},"text":{"field":"t"}}},
{"data":{"name":"fe"},"mark":{"type":"text","align":"right","baseline":"bottom","dx":-2,"dy":-1,"fontSize":9,"color":"#1E90FF"},
 "encoding":{"x":{"datum":466.75,"type":"quantitative"},
  "y":{"field":"p","type":"quantitative"},"text":{"field":"t"}}},
{"data":{"values":[{"x1":-0.25,"x2":58.6,"y1":2266.5,"y2":2280.3}]},"mark":{"type":"rect","color":"white"},
 "encoding":{"x":{"field":"x1","type":"quantitative"},"x2":{"field":"x2"},
 "y":{"field":"y1","type":"quantitative"},"y2":{"field":"y2"}}},
{"data":{"values":[{"t":"▼ PALLADIUM,H4  1878.20 1902.25 1873.00 1885.00"}]},"mark":{"type":"text","align":"left","baseline":"middle","dx":4,"fontSize":9,"color":"black"},
 "encoding":{"x":{"datum":-0.25,"type":"quantitative"},
  "y":{"datum":2274.0,"type":"quantitative"},"text":{"field":"t"}}},
{"data":{"name":"boxes"},"mark":{"type":"point","filled":true,"color":"black","opacity":1,"shape":"M-1,-0.316H1V0.316H-1Z","size":1444},
 "encoding":{"x":{"datum":471.9,"type":"quantitative"},
  "y":{"field":"p","type":"quantitative"}}},
{"data":{"name":"boxes"},"mark":{"type":"text","align":"left","baseline":"middle","fontSize":9,"color":"white"},
 "encoding":{"x":{"datum":468.1,"type":"quantitative"},
  "y":{"field":"p","type":"quantitative"},
  "text":{"field":"p","type":"quantitative","format":".2f"}}}
]
}
